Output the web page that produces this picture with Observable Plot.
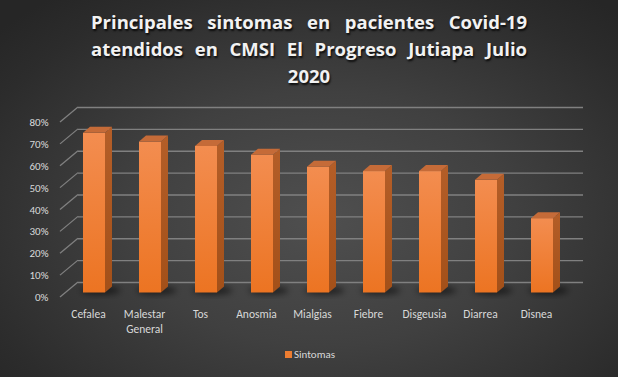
<!DOCTYPE html>
<html>
<head>
<meta charset="utf-8">
<script src="https://cdn.jsdelivr.net/npm/d3@7"></script>
<script src="https://cdn.jsdelivr.net/npm/@observablehq/plot@0.6"></script>
<style>
  body { margin: 0; }
  #wrap { position: relative; width: 618px; height: 377px; overflow: hidden;
    background: radial-gradient(ellipse 70% 75% at 52% 58%, #4f4f4f 0%, #404040 45%, #2c2c2c 85%, #262626 100%);
    font-family: Carlito, Lato, "Liberation Sans", sans-serif; }
  #title { position: absolute; left: 0; top: 8px; width: 618px; color: #f2f2f2;
    font-family: "Open Sans", Lato, sans-serif;
    font-weight: bold; font-size: 18.5px; line-height: 27px; text-shadow: 1px 2px 2px rgba(0,0,0,0.8); }
  #title .j { width: 436px; margin: 0 auto; text-align: justify; text-align-last: justify; white-space: nowrap; }
  #title .c { text-align: center; }
  #chart { position: absolute; left: 0; top: 95px; }
  #legend { position: absolute; left: 285px; top: 348px; color: #d9d9d9; font-size: 11px; display: flex; align-items: center; }
  #legend span.sw { display: inline-block; width: 7px; height: 7px; background: #ed7d31; margin-right: 2px; }
</style>
</head>
<body>
<svg width="0" height="0" style="position:absolute">
  <defs>
    <linearGradient id="frontGrad" x1="0" y1="0" x2="0" y2="1">
      <stop offset="0" stop-color="#f38d50"/>
      <stop offset="1" stop-color="#ec7422"/>
    </linearGradient>
    <linearGradient id="sideGrad" x1="0" y1="0" x2="0" y2="1">
      <stop offset="0" stop-color="#b45e28"/>
      <stop offset="1" stop-color="#a35019"/>
    </linearGradient>
    <filter id="blur" x="-50%" y="-50%" width="200%" height="200%">
      <feGaussianBlur stdDeviation="3"/>
    </filter>
  </defs>
</svg>
<div id="wrap">
  <div id="title">
    <div class="j">Principales sintomas en pacientes Covid-19</div>
    <div class="j">atendidos en CMSI El Progreso Jutiapa Julio</div>
    <div class="c">2020</div>
  </div>
  <div id="chart"></div>
  <div id="legend"><span class="sw"></span>Sintomas</div>
</div>
<script>
const categories = ["Cefalea", "Malestar General", "Tos", "Anosmia", "Mialgias", "Fiebre", "Disgeusia", "Diarrea", "Disnea"];
const labels = ["Cefalea", "Malestar\nGeneral", "Tos", "Anosmia", "Mialgias", "Fiebre", "Disgeusia", "Diarrea", "Disnea"];
const values = [73, 69, 67, 63, 57.5, 55.5, 55.5, 51.5, 34];
const yTicks = [0, 10, 20, 30, 40, 50, 60, 70, 80];

const data = categories.map((c, i) => ({cat: c, label: labels[i], value: values[i]}));

// depth styling (pixels)
const WALL_DX = 18, WALL_DY = -15;   // back wall offset
const BAR_DX = 6, BAR_DY = -4.5;     // bar front face offset from front plane
const SIDE_DX = 7, SIDE_DY = -6;     // bar depth

const gridColor = "#808080";
const textColor = "#d9d9d9";

function leftWall(index, scales, values, dims) {
  const y = scales.y;
  const g = d3.create("svg:g").attr("stroke", gridColor).attr("stroke-width", 1.3);
  for (const t of yTicks) {
    g.append("line")
      .attr("x1", dims.marginLeft).attr("y1", y(t))
      .attr("x2", dims.marginLeft + WALL_DX).attr("y2", y(t) + WALL_DY);
  }
  return g.node();
}

function shadows(index, scales, values, dims) {
  const {x, y} = scales;
  const bw = x.bandwidth();
  const g = d3.create("svg:g").attr("fill", "#000").attr("fill-opacity", 0.55).attr("filter", "url(#blur)");
  for (const d of data) {
    const x0 = x(d.cat) + BAR_DX;
    const yb = y(0) + BAR_DY;
    g.append("ellipse")
      .attr("cx", x0 + bw * 0.8).attr("cy", yb - 2)
      .attr("rx", bw * 0.9).attr("ry", 4);
  }
  return g.node();
}

function barSides(index, scales, values, dims) {
  const {x, y} = scales;
  const bw = x.bandwidth();
  const g = d3.create("svg:g");
  for (const d of data) {
    const x0 = x(d.cat) + BAR_DX;
    const yt = y(d.value) + BAR_DY;
    const yb = y(0) + BAR_DY;
    const x1 = x0 + bw;
    g.append("path")
      .attr("d", `M${x1},${yt}L${x1 + SIDE_DX},${yt + SIDE_DY}L${x1 + SIDE_DX},${yb + SIDE_DY}L${x1},${yb}Z`)
      .attr("fill", "url(#sideGrad)");
    g.append("path")
      .attr("d", `M${x0},${yt}L${x0 + SIDE_DX},${yt + SIDE_DY}L${x1 + SIDE_DX},${yt + SIDE_DY}L${x1},${yt}Z`)
      .attr("fill", "#c56b38");
  }
  return g.node();
}

const chart = Plot.plot({
  width: 618,
  height: 282,
  marginLeft: 60,
  marginRight: 53,
  marginTop: 27,
  marginBottom: 80,
  style: {background: "transparent", fontFamily: "Carlito, Lato, 'Liberation Sans', sans-serif"},
  x: {domain: categories, paddingInner: 0.6, paddingOuter: 0.3, axis: null},
  y: {domain: [0, 80], axis: null},
  marks: [
    Plot.ruleY(yTicks, {dx: WALL_DX, dy: WALL_DY, stroke: gridColor, strokeWidth: 1.3}),
    leftWall,
    shadows,
    Plot.barY(data, {x: "cat", y: "value", dx: BAR_DX, dy: BAR_DY, fill: "url(#frontGrad)"}),
    barSides,
    Plot.text(yTicks, {y: d => d, frameAnchor: "left", dx: -12, textAnchor: "end", text: d => d + "%", fill: textColor, fontSize: 11}),
    Plot.text(data, {x: "cat", y: () => 0, text: "label", dy: 10, lineAnchor: "top", lineHeight: 1.3, fill: textColor, fontSize: 11.5})
  ]
});
document.getElementById("chart").appendChild(chart);
</script>
</body>
</html>
